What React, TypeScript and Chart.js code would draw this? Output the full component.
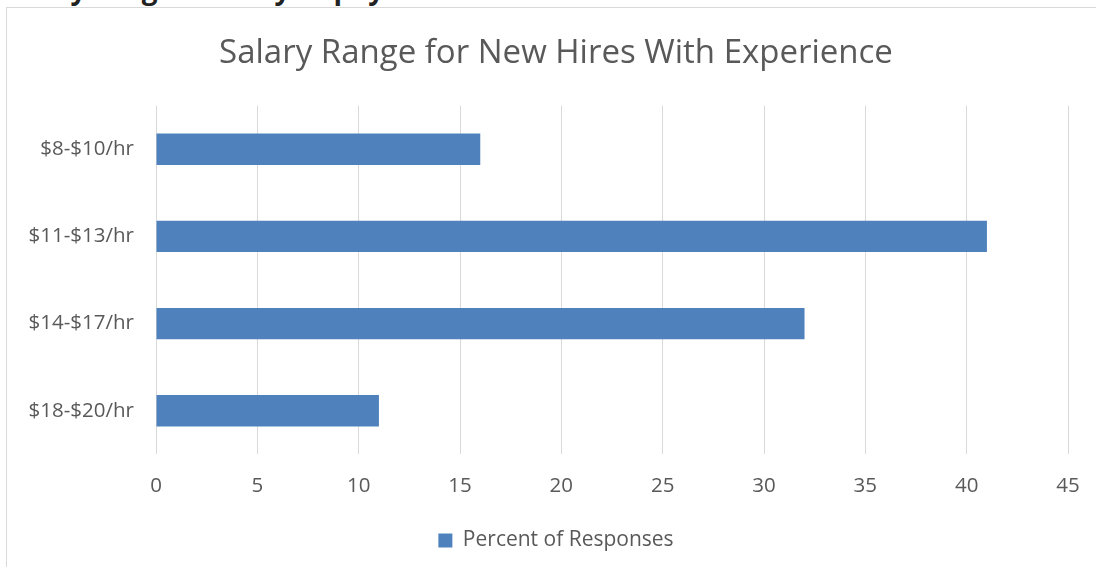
import React, { useEffect, useRef } from "react";
import { Chart, registerables } from "chart.js";

Chart.register(...registerables);

const categories = ["$8-$10/hr", "$11-$13/hr", "$14-$17/hr", "$18-$20/hr"];
const percentValues = [16, 41, 32, 11];
const seriesLabel = "Percent of Responses";
const chartTitle = "Salary Range for New Hires With Experience";
const headingText = "Salary range would you pay the";

const FONT = "'Open Sans', sans-serif";
const TEXT = "#595959";

export default function App() {
  const ref = useRef<HTMLCanvasElement | null>(null);

  useEffect(() => {
    if (!ref.current) return;
    const chart = new Chart(ref.current, {
      type: "bar",
      data: {
        labels: categories,
        datasets: [
          {
            label: seriesLabel,
            data: percentValues,
            backgroundColor: "#4F81BD",
            borderWidth: 0,
            barPercentage: 0.36,
            categoryPercentage: 1,
            yAxisID: "y",
          },
        ],
      },
      options: {
        indexAxis: "y",
        animation: false,
        responsive: false,
        maintainAspectRatio: false,
        layout: { padding: 0 },
        scales: {
          x: {
            min: 0,
            max: 45,
            ticks: {
              stepSize: 5,
              color: TEXT,
              font: { family: FONT, size: 20.5 },
              padding: 19,
            },
            grid: { color: "#d9d9d9", lineWidth: 1, drawTicks: false },
            border: { display: false },
          },
          y: {
            ticks: {
              color: TEXT,
              font: { family: FONT, size: 20.5 },
              padding: 22,
            },
            grid: { display: false, drawTicks: false },
            border: { display: false },
            afterFit: (scale: any) => {
              scale.width = 149;
            },
          },
          yRight: {
            type: "linear",
            position: "right",
            display: true,
            ticks: { display: false },
            grid: { display: false, drawTicks: false },
            border: { display: false },
            afterFit: (scale: any) => {
              scale.width = 37;
            },
          },
        },
        plugins: {
          title: {
            display: true,
            text: chartTitle,
            color: TEXT,
            font: { family: FONT, size: 33, weight: "normal" },
            padding: { top: 26, bottom: 32 },
          },
          legend: {
            position: "bottom",
            labels: {
              color: TEXT,
              font: { family: FONT, size: 21 },
              boxWidth: 14,
              boxHeight: 14,
              padding: 13,
            },
          },
          tooltip: { enabled: false },
        },
      },
    });
    return () => chart.destroy();
  }, []);

  return (
    <div
      style={{
        position: "fixed",
        left: 0,
        top: 0,
        width: 1096,
        height: 567,
        overflow: "hidden",
        background: "#fff",
      }}
    >
      <div
        style={{
          position: "absolute",
          left: 0,
          top: -26,
          fontFamily: FONT,
          fontWeight: "bold",
          fontSize: 28,
          lineHeight: "28px",
          color: "#222",
          whiteSpace: "nowrap",
        }}
      >
        {headingText}
      </div>
      <div
        style={{
          position: "absolute",
          left: 6,
          top: 7,
          width: 1098,
          height: 580,
          border: "1px solid #d9d9d9",
          background: "#fff",
        }}
      >
        <canvas ref={ref} width={1098} height={553} style={{ display: "block" }} />
      </div>
    </div>
  );
}
